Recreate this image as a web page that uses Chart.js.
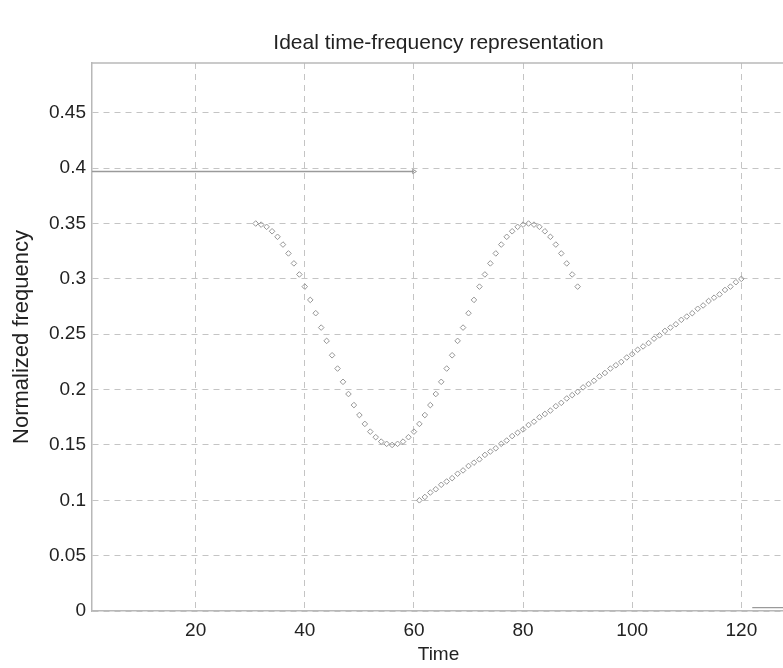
<!DOCTYPE html>
<html><head><meta charset="utf-8">
<script src="https://cdn.jsdelivr.net/npm/chart.js@4.4.1/dist/chart.umd.min.js"></script>
<style>
html,body{margin:0;padding:0;overflow:hidden;background:#fff;width:783px;height:668px}
#wrap{width:790px;height:668px}
</style></head>
<body><div id="wrap"><canvas id="c" width="790" height="668"></canvas></div>
<script>
// Chart title
const chartTitle = 'Ideal time-frequency representation';
// Constant-frequency component (horizontal line)
const toneTime = [1, 60];
const toneFreq = [0.397, 0.397];
// Sinusoidal FM component
const sfmTime = [31,32,33,34,35,36,37,38,39,40,41,42,43,44,45,46,47,48,49,50,51,52,53,54,55,56,57,58,59,60,
                 61,62,63,64,65,66,67,68,69,70,71,72,73,74,75,76,77,78,79,80,81,82,83,84,85,86,87,88,89,90];
const sfmFreq = [0.350,0.349,0.347,0.343,0.338,0.331,0.323,0.314,0.304,0.293,0.281,0.269,0.256,0.244,0.231,
                 0.219,0.207,0.196,0.186,0.177,0.169,0.162,0.157,0.153,0.151,0.150,0.151,0.153,0.157,0.162,
                 0.169,0.177,0.186,0.196,0.207,0.219,0.231,0.244,0.256,0.269,0.281,0.293,0.304,0.314,0.323,
                 0.331,0.338,0.343,0.347,0.349,0.350,0.349,0.347,0.343,0.338,0.331,0.323,0.314,0.304,0.293];
// Linear chirp component
const chirpTime = [61,62,63,64,65,66,67,68,69,70,71,72,73,74,75,76,77,78,79,80,81,82,83,84,85,86,87,88,89,90,
                   91,92,93,94,95,96,97,98,99,100,101,102,103,104,105,106,107,108,109,110,111,112,113,114,115,116,117,118,119,120];
const chirpFreq = [0.100,0.103,0.107,0.110,0.114,0.117,0.120,0.124,0.127,0.131,0.134,0.137,0.141,0.144,0.147,
                   0.151,0.154,0.158,0.161,0.164,0.168,0.171,0.175,0.178,0.181,0.185,0.188,0.192,0.195,0.198,
                   0.202,0.205,0.208,0.212,0.215,0.219,0.222,0.225,0.229,0.232,0.236,0.239,0.242,0.246,0.249,
                   0.253,0.256,0.259,0.263,0.266,0.269,0.273,0.276,0.280,0.283,0.286,0.290,0.293,0.297,0.300];
// Short segment near zero at the right
const tailTime = [122, 128];
const tailFreq = [0.003, 0.003];
// Tick labels
const xTicks = [20, 40, 60, 80, 100, 120];
const yTicks = [0, 0.05, 0.1, 0.15, 0.2, 0.25, 0.3, 0.35, 0.4, 0.45];

const pts = (xs, ys) => xs.map((x, i) => ({x: x, y: ys[i]}));
const FONT = "'Liberation Sans', Arial, Helvetica, sans-serif";
const GRID = '#c4c4c4';
const MARK = '#969696';

const frame = {
  id: 'frame',
  afterDraw(chart) {
    const {ctx, chartArea: a} = chart;
    ctx.save();
    ctx.strokeStyle = '#b8b8b8';
    ctx.lineWidth = 1.5;
    ctx.beginPath();
    ctx.moveTo(a.left, a.top);
    ctx.lineTo(a.right, a.top);
    ctx.stroke();
    ctx.fillStyle = '#222';
    ctx.font = '21px ' + FONT;
    ctx.textAlign = 'center';
    ctx.textBaseline = 'middle';
    ctx.fillText(chartTitle, (a.left + a.right) / 2, 43);
    ctx.restore();
  }
};

new Chart(document.getElementById('c'), {
  type: 'scatter',
  data: {
    datasets: [
      {data: pts(toneTime, toneFreq), showLine: true, borderColor: '#9a9a9a', borderWidth: 1.6,
       pointRadius: [0, 2.5], pointStyle: 'triangle', rotation: 90, pointBorderColor: MARK,
       pointBackgroundColor: 'rgba(0,0,0,0)', pointBorderWidth: 1},
      {data: pts(sfmTime, sfmFreq), showLine: false, pointStyle: 'rectRot', pointRadius: 2.8,
       pointBorderColor: MARK, pointBackgroundColor: 'rgba(0,0,0,0)', pointBorderWidth: 1},
      {data: pts(chirpTime, chirpFreq), showLine: false, pointStyle: 'rectRot', pointRadius: 2.8,
       pointBorderColor: MARK, pointBackgroundColor: 'rgba(0,0,0,0)', pointBorderWidth: 1},
      {data: pts(tailTime, tailFreq), showLine: true, borderColor: '#9a9a9a', borderWidth: 1.2, pointRadius: 0}
    ]
  },
  options: {
    responsive: false,
    animation: false,
    events: [],
    layout: {padding: {left: 0, right: 3, top: 63, bottom: 0}},
    plugins: {
      legend: {display: false},
      tooltip: {enabled: false},
      title: {display: false}
    },
    scales: {
      x: {
        type: 'linear', min: 1, max: 128,
        afterBuildTicks: s => { s.ticks = xTicks.map(v => ({value: v})); },
        afterFit: s => { s.height = 57; },
        grid: {color: GRID, lineWidth: 1, drawTicks: false},
        border: {display: true, color: '#b8b8b8', width: 1.5, dash: [6, 5]},
        ticks: {color: '#222', font: {family: FONT, size: 19}, padding: 8, maxRotation: 0},
        title: {display: true, text: 'Time', color: '#222', font: {family: FONT, size: 19, lineHeight: 1.2},
                padding: {top: 0, bottom: 1.6}}
      },
      y: {
        type: 'linear', min: 0, max: 0.495,
        afterBuildTicks: s => { s.ticks = yTicks.map(v => ({value: v})); },
        afterFit: s => { s.width = 92; },
        grid: {color: GRID, lineWidth: 1, drawTicks: false},
        border: {display: true, color: '#b8b8b8', width: 1.5, dash: [6, 5]},
        ticks: {color: '#222', font: {family: FONT, size: 19}, padding: 6,
                callback: v => String(v)},
        title: {display: true, text: 'Normalized frequency', color: '#222',
                font: {family: FONT, size: 22, lineHeight: 1.2}, padding: {top: 9, bottom: 0}}
      }
    }
  },
  plugins: [frame]
});
</script>
</body></html>
